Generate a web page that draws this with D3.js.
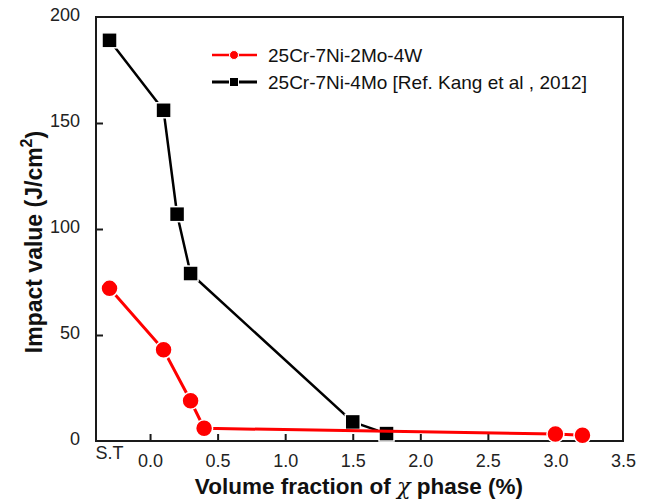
<!DOCTYPE html>
<html>
<head>
<meta charset="utf-8">
<script src="https://cdn.jsdelivr.net/npm/d3@7"></script>
<style>
  html, body { margin: 0; padding: 0; background: #fff; }
  svg { display: block; font-family: "Liberation Sans", Arial, sans-serif; }
</style>
</head>
<body>
<svg id="chart" width="651" height="502"></svg>
<script>
// ---- data ----
const redName = "25Cr-7Ni-2Mo-4W";
const blackName = "25Cr-7Ni-4Mo [Ref. Kang et al , 2012]";
const redX = [-0.3, 0.1, 0.3, 0.4, 3.0, 3.2];
const redY = [72, 43, 19, 6, 3.3, 2.7];
const blackX = [-0.3, 0.1, 0.2, 0.3, 1.5, 1.75];
const blackY = [189, 156, 107, 79, 9, 3.5];
const xTicks = [0, 0.5, 1.0, 1.5, 2.0, 2.5, 3.0, 3.5];
const yTicks = [0, 50, 100, 150, 200];
const stPos = -0.3;
const stLabel = "S.T";

// ---- layout ----
const svg = d3.select("#chart");
const L = 96, R = 623, T = 17, B = 441;
const x = d3.scaleLinear().domain([-0.4, 3.5]).range([L, R]);
const y = d3.scaleLinear().domain([0, 200]).range([B, T]);

// frame
svg.append("rect").attr("x", L).attr("y", T).attr("width", R - L).attr("height", B - T)
  .attr("fill", "none").attr("stroke", "#1a1a1a").attr("stroke-width", 2);

// x axis (ticks inward)
const xAxis = d3.axisBottom(x).tickValues(xTicks).tickSizeInner(-7).tickSizeOuter(0)
  .tickPadding(13).tickFormat(d3.format(".1f"));
const gx = svg.append("g").attr("transform", `translate(0,${B})`).call(xAxis);
gx.select(".domain").remove();
gx.selectAll(".tick line").attr("stroke", "#1a1a1a").attr("stroke-width", 2);
gx.selectAll(".tick text").attr("font-size", 18).attr("fill", "#222")
  .attr("font-family", "Liberation Sans, Arial, sans-serif");
gx.selectAll(".tick").filter(d => d === 3.5).select("line").remove();

svg.append("text").attr("x", x(stPos)).attr("y", 459).attr("text-anchor", "middle")
  .attr("font-size", 18).attr("fill", "#222").text(stLabel);

// y axis (ticks inward)
const yAxis = d3.axisLeft(y).tickValues(yTicks).tickSizeInner(-7).tickSizeOuter(0).tickPadding(16);
const gy = svg.append("g").attr("transform", `translate(${L},0)`).call(yAxis);
gy.select(".domain").remove();
gy.selectAll(".tick line").attr("stroke", "#1a1a1a").attr("stroke-width", 2);
gy.selectAll(".tick").filter(d => d === 0 || d === 200).select("line").remove();
gy.selectAll(".tick text").attr("font-size", 18).attr("fill", "#222")
  .attr("font-family", "Liberation Sans, Arial, sans-serif").attr("dy", "0.2em");

// axis titles
const xt = svg.append("text").attr("x", 359).attr("y", 494).attr("text-anchor", "middle")
  .attr("font-size", 22.5).attr("font-weight", "bold").attr("fill", "#111");
xt.append("tspan").text("Volume fraction of ");
xt.append("tspan").attr("font-family", "DejaVu Serif, serif").attr("font-weight", "normal")
  .attr("font-style", "italic").text("χ");
xt.append("tspan").text(" phase (%)");

const yt = svg.append("text").attr("transform", `translate(42,${242}) rotate(-90)`)
  .attr("text-anchor", "middle").attr("font-size", 23).attr("font-weight", "bold").attr("fill", "#111");
yt.append("tspan").text("Impact value (J/cm");
yt.append("tspan").attr("font-size", 16).attr("dy", "-0.6em").text("2");
yt.append("tspan").attr("dy", "0.45em").text(")");

// series
const line = d3.line().x(d => x(d[0])).y(d => y(d[1]));
const blackData = blackX.map((v, i) => [v, blackY[i]]);
const redData = redX.map((v, i) => [v, redY[i]]);

svg.append("path").datum(blackData).attr("d", line).attr("fill", "none")
  .attr("stroke", "#000").attr("stroke-width", 2.5);
svg.append("g").selectAll("rect").data(blackData).join("rect")
  .attr("x", d => x(d[0]) - 7.5).attr("y", d => y(d[1]) - 7.5)
  .attr("width", 15).attr("height", 15).attr("fill", "#000")
  .attr("stroke", "#fff").attr("stroke-width", 1.5);

svg.append("path").datum(redData).attr("d", line).attr("fill", "none")
  .attr("stroke", "#ff0000").attr("stroke-width", 3);
svg.append("g").selectAll("circle").data(redData).join("circle")
  .attr("cx", d => x(d[0])).attr("cy", d => y(d[1])).attr("r", 8.5)
  .attr("fill", "#ff0000").attr("stroke", "#fff").attr("stroke-width", 1.5);

// legend
const lg = svg.append("g");
const rows = [
  { name: redName, color: "#ff0000", shape: "circle", y: 55 },
  { name: blackName, color: "#000", shape: "square", y: 82 }
];
rows.forEach(r => {
  lg.append("line").attr("x1", 212).attr("x2", 257).attr("y1", r.y).attr("y2", r.y)
    .attr("stroke", r.color).attr("stroke-width", r.shape === "circle" ? 2.5 : 3);
  if (r.shape === "circle") {
    lg.append("circle").attr("cx", 234).attr("cy", r.y).attr("r", 4.5).attr("fill", r.color)
      .attr("stroke", "#fff").attr("stroke-width", 1);
  } else {
    lg.append("rect").attr("x", 229.5).attr("y", r.y - 4.5).attr("width", 9).attr("height", 9)
      .attr("fill", r.color).attr("stroke", "#fff").attr("stroke-width", 1);
  }
  lg.append("text").attr("x", 268).attr("y", r.y + 7).attr("font-size", 19).attr("fill", "#111")
    .text(r.name);
});
</script>
</body>
</html>
